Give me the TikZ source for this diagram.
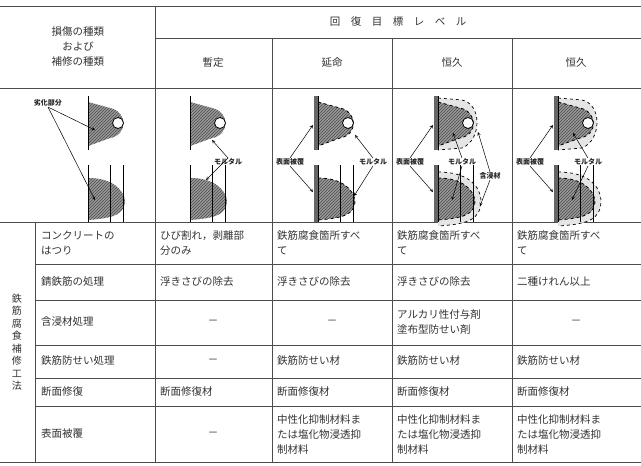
\documentclass[tikz,border=0pt]{standalone}
\usepackage{fontspec}
\setmainfont{Noto Sans CJK JP}
\usetikzlibrary{patterns}
\begin{document}
\begin{tikzpicture}[x=1pt,y=-1pt,
  grid/.style={draw=black!70,line width=0.6pt},
  cell/.style={anchor=west,font=\fontsize{10.5}{15}\selectfont,align=left,text=black!80,inner sep=0pt},
  ctr/.style={font=\fontsize{10.5}{15}\selectfont,align=center,text=black!80,inner sep=0pt},
  lab/.style={font=\fontsize{7}{8}\selectfont\bfseries,text=black!85,inner sep=0.5pt},
  hat/.style={pattern=north east lines,pattern color=black!70},
  arr/.style={-stealth,line width=0.5pt}]
\useasboundingbox (0,0) rectangle (641,466);
\fill[white] (0,0) rectangle (641,466);
% grid
\draw[grid] (0,6) -- (641,6);
\draw[grid] (155,38) -- (641,38);
\draw[grid] (0,88) -- (641,88);
\draw[grid] (0,222) -- (641,222);
\foreach \y in {264,300,345,378,406} \draw[grid] (35,\y) -- (641,\y);
\draw[grid] (0,462) -- (641,462);
\draw[grid] (155,6) -- (155,462);
\foreach \x in {272,392,512} \draw[grid] (\x,38) -- (\x,462);
\draw[grid] (35,222) -- (35,462);
% headers
\node[ctr] (h0) at (78,47) {損傷の種類\\および\\補修の種類};
\node[ctr] (h1) at (398,22) {回\quad 復\quad 目\quad 標\quad レ\quad ベ\quad ル};
\node[ctr] (h2) at (213,63) {暫定};
\node[ctr] (h3) at (332,63) {延命};
\node[ctr] (h4) at (452,63) {恒久};
\node[ctr] (h5) at (576,63) {恒久};
% figures
\foreach \x/\k in {88/1,190/2,318/3,438/4,558/5}{
 \begin{scope}[shift={(\x,0)}]
  \ifnum\k>3
   \draw[dashed,line width=0.7pt,fill=black!10] (0,98) -- (24,100) .. controls (44,104) and (44,140) .. (24,148) -- (0,150);
   \draw[dashed,line width=0.7pt,fill=black!10] (0,172) .. controls (30,172) and (42,186) .. (43,200) .. controls (43,220) and (30,224) .. (0,226);
  \fi
  \fill[black!40] (0,102) -- (22,108) .. controls (40,112) and (40,135) .. (22,138) -- (0,146) -- cycle;
  \path[hat] (0,102) -- (22,108) .. controls (40,112) and (40,135) .. (22,138) -- (0,146) -- cycle;
  \ifnum\k>2 \draw[dashed,line width=0.8pt] (0,102) -- (22,108) .. controls (40,112) and (40,135) .. (22,138) -- (0,146);\fi
  \draw[fill=white,line width=0.8pt] (30,123) circle (5.5);
  \fill[black!40] (0,178) .. controls (25,178) and (35,190) .. (37,200) .. controls (37,215) and (25,218) .. (0,220) -- cycle;
  \path[hat] (0,178) .. controls (25,178) and (35,190) .. (37,200) .. controls (37,215) and (25,218) .. (0,220) -- cycle;
  \ifnum\k>2 \draw[dashed,line width=0.8pt] (0,178) .. controls (25,178) and (35,190) .. (37,200) .. controls (37,215) and (25,218) .. (0,220);\fi
  \draw[line width=0.7pt] (0,96) -- (0,150) (0,165) -- (0,222);
  \draw[line width=0.7pt] (22,165) -- (22,222) (35,165) -- (35,222);
  \ifnum\k>2 \fill[black!60] (-4,96) rectangle (0,150); \fill[black!60] (-4,165) rectangle (0,222);\fi
 \end{scope}}
% labels col1
\node[lab] (l1) at (48,103) {劣化部分};
\coordinate (t1) at (95,130); \coordinate (b1) at (95,200);
\draw[arr] (l1.south) -- (t1); \draw[arr] (l1.south) -- (b1);
% col2
\node[lab] (l2) at (228,162) {モルタル};
\coordinate (t2) at (212,140); \coordinate (b2) at (206,180);
\draw[arr] (l2.north) -- (t2); \draw[arr] (l2.north) -- (b2);
% col3
\node[lab] (s3) at (290,162) {表面被覆};
\node[lab] (m3) at (373,162) {モルタル};
\coordinate (s3a) at (313,125); \coordinate (s3b) at (313,192);
\coordinate (m3a) at (355,135); \coordinate (m3b) at (354,196);
\draw[arr] (s3.north) -- (s3a); \draw[arr] (s3.south) -- (s3b);
\draw[arr] (m3.north) -- (m3a); \draw[arr] (m3.south) -- (m3b);
% col4
\node[lab] (s4) at (410,162) {表面被覆};
\node[lab] (m4) at (462,162) {モルタル};
\node[lab] (g4) at (490,176) {含浸材};
\coordinate (s4a) at (433,125); \coordinate (s4b) at (433,192);
\coordinate (m4a) at (453,133); \coordinate (m4b) at (452,200);
\coordinate (g4a) at (478,132); \coordinate (g4b) at (480,206);
\draw[arr] (s4.north) -- (s4a); \draw[arr] (s4.south) -- (s4b);
\draw[arr] (m4.north) -- (m4a); \draw[arr] (m4.south) -- (m4b);
\draw[arr] (g4.north) -- (g4a); \draw[arr] (g4.south) -- (g4b);
% col5
\node[lab] (s5) at (530,162) {表面被覆};
\node[lab] (m5) at (588,162) {モルタル};
\coordinate (s5a) at (553,125); \coordinate (s5b) at (553,192);
\coordinate (m5a) at (573,133); \coordinate (m5b) at (572,200);
\draw[arr] (s5.north) -- (s5a); \draw[arr] (s5.south) -- (s5b);
\draw[arr] (m5.north) -- (m5a); \draw[arr] (m5.south) -- (m5b);
% side label
\node[ctr,font=\fontsize{10}{12.5}\selectfont] (side) at (17,342) {鉄\\筋\\腐\\食\\補\\修\\工\\法};
% row labels
\node[cell] (r1) at (41,243) {コンクリートの\\はつり};
\node[cell] (r2) at (41,282) {錆鉄筋の処理};
\node[cell] (r3) at (41,322) {含浸材処理};
\node[cell] (r4) at (41,361) {鉄筋防せい処理};
\node[cell] (r5) at (41,392) {断面修復};
\node[cell] (r6) at (41,434) {表面被覆};
% col 2
\node[cell] (a1) at (160,243) {ひび割れ，剥離部\\分のみ};
\node[cell] (a2) at (160,282) {浮きさびの除去};
\node[ctr] (a3) at (213,322) {－};
\node[ctr] (a4) at (213,361) {－};
\node[cell] (a5) at (160,392) {断面修復材};
\node[ctr] (a6) at (213,434) {－};
% col 3
\node[cell] (b1c) at (277,243) {鉄筋腐食箇所すべ\\て};
\node[cell] (b2c) at (277,282) {浮きさびの除去};
\node[ctr] (b3c) at (332,322) {－};
\node[cell] (b4c) at (277,361) {鉄筋防せい材};
\node[cell] (b5c) at (277,392) {断面修復材};
\node[cell] (b6c) at (277,434) {中性化抑制材料ま\\たは塩化物浸透抑\\制材料};
% col 4
\node[cell] (c1) at (397,243) {鉄筋腐食箇所すべ\\て};
\node[cell] (c2) at (397,282) {浮きさびの除去};
\node[cell] (c3) at (397,322) {アルカリ性付与剤\\塗布型防せい剤};
\node[cell] (c4) at (397,361) {鉄筋防せい材};
\node[cell] (c5) at (397,392) {断面修復材};
\node[cell] (c6) at (397,434) {中性化抑制材料ま\\たは塩化物浸透抑\\制材料};
% col 5
\node[cell] (d1) at (517,243) {鉄筋腐食箇所すべ\\て};
\node[cell] (d2) at (517,282) {二種けれん以上};
\node[ctr] (d3) at (576,322) {－};
\node[cell] (d4) at (517,361) {鉄筋防せい材};
\node[cell] (d5) at (517,392) {断面修復材};
\node[cell] (d6) at (517,434) {中性化抑制材料ま\\たは塩化物浸透抑\\制材料};
\end{tikzpicture}
\end{document}
